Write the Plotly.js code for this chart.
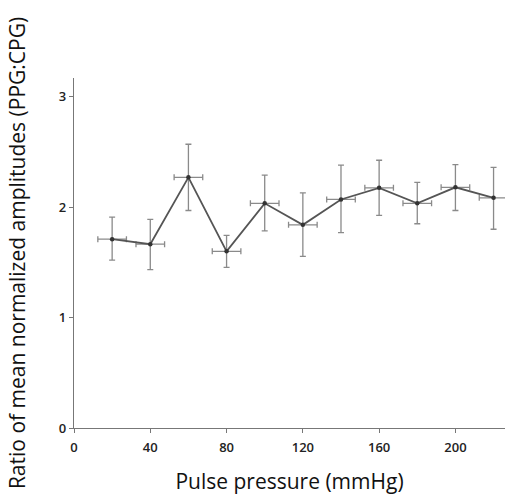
<!DOCTYPE html>
<html>
<head>
<meta charset="utf-8">
<script src="https://cdn.plot.ly/plotly-3.0.1.min.js"></script>
<style>html,body{margin:0;padding:0;background:#fff;}#chart{width:505px;height:495px;}</style>
</head>
<body>
<div id="chart"></div>
<script>
const pulsePressure = [20, 40, 60, 80, 100, 120, 140, 160, 180, 200, 220];
const ratio = [1.71, 1.665, 2.27, 1.60, 2.035, 1.84, 2.07, 2.175, 2.035, 2.18, 2.085];
const errPlus = [0.20, 0.225, 0.30, 0.145, 0.255, 0.29, 0.31, 0.25, 0.19, 0.205, 0.275];
const errMinus = [0.19, 0.23, 0.30, 0.145, 0.25, 0.285, 0.30, 0.25, 0.185, 0.21, 0.285];
const xErr = 7.5;
const xTicks = [0, 40, 80, 120, 160, 200];
const yTicks = [0, 1, 2, 3];

const trace = {
  x: pulsePressure,
  y: ratio,
  type: 'scatter',
  mode: 'lines+markers',
  line: {color: '#555555', width: 1.8},
  marker: {color: '#333333', size: 4.5, symbol: 'circle'},
  error_y: {type: 'data', symmetric: false, array: errPlus, arrayminus: errMinus, color: '#8a8a8a', thickness: 1.3, width: 3},
  error_x: {type: 'constant', value: xErr, color: '#8a8a8a', thickness: 1.3, width: 3},
  cliponaxis: false
};

const layout = {
  width: 505, height: 495,
  margin: {l: 74, r: 0, t: 78, b: 67},
  paper_bgcolor: '#ffffff', plot_bgcolor: '#ffffff',
  showlegend: false,
  font: {family: 'Open Sans, sans-serif', color: '#222222'},
  xaxis: {
    range: [0, 226], tickvals: xTicks, ticktext: xTicks.map(String),
    showgrid: false, zeroline: false, showline: true, linecolor: '#777777', linewidth: 1.3,
    ticks: 'outside', ticklen: 4, tickcolor: '#777777', tickwidth: 1, ticklabelstandoff: 3,
    tickfont: {size: 13, weight: 600, color: '#222222'},
    title: {text: 'Pulse pressure (mmHg)', font: {size: 21, color: '#111111'}, standoff: 19}
  },
  yaxis: {
    range: [0, 3.17], tickvals: yTicks, ticktext: yTicks.map(String),
    showgrid: false, zeroline: false, showline: true, linecolor: '#777777', linewidth: 1.3,
    ticks: 'outside', ticklen: 4, tickcolor: '#777777', tickwidth: 1,
    tickfont: {size: 13, weight: 600, color: '#222222'},
    title: {text: 'Ratio of mean normalized amplitudes (PPG:CPG)', font: {size: 21, color: '#111111'}, standoff: 27}
  }
};

Plotly.newPlot('chart', [trace], layout, {displayModeBar: false, staticPlot: true});
</script>
</body>
</html>
